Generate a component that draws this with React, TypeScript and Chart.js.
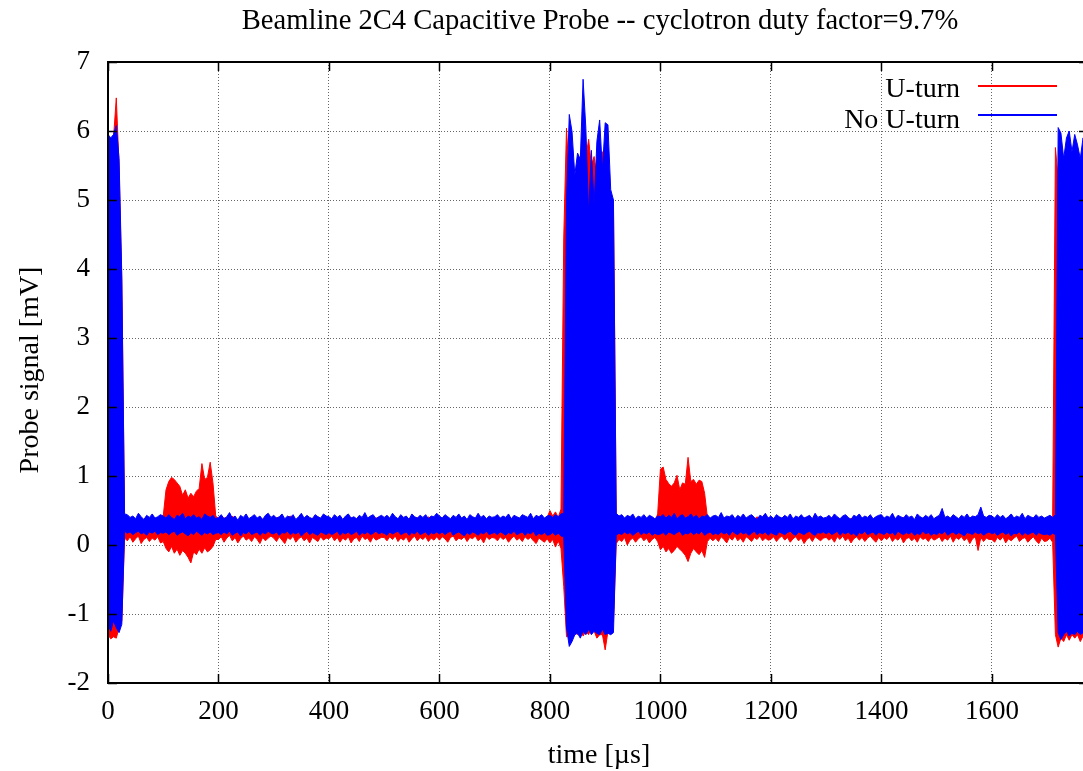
import React, { useEffect, useRef } from "react";
import { Chart, registerables } from "chart.js";

Chart.register(...registerables);

const TITLE = "Beamline 2C4 Capacitive Probe -- cyclotron duty factor=9.7%";
const X_TITLE = "time [µs]";
const Y_TITLE = "Probe signal [mV]";
const SERIES_NAMES = ["U-turn", "No U-turn"];
const X_TICKS = [0, 200, 400, 600, 800, 1000, 1200, 1400, 1600];
const Y_TICKS = [-2, -1, 0, 1, 2, 3, 4, 5, 6, 7];
const X_MIN = 0;
const X_MAX = 1774;
const Y_MIN = -2;
const Y_MAX = 7;
// envelope samples every 5 µs, starting at t = 0 µs
const T_STEP = 5;

// No U-turn (blue): upper envelope of the probe signal, mV
const noUturnHi = [
  5.95, 5.9, 5.95, 6.08, 5.6, 3.9, 0.45, 0.44, 0.40, 0.42, 0.38, 0.46, 0.41, 0.37, 0.43, 0.40, 0.45, 0.39, 0.41, 0.44, // 0-95
  0.42, 0.39, 0.44, 0.40, 0.37, 0.43, 0.41, 0.46, 0.38, 0.42, 0.40, 0.44, 0.39, 0.41, 0.37, 0.45, 0.42, 0.40, 0.43, 0.38, // 100
  0.40, 0.44, 0.38, 0.41, 0.47, 0.39, 0.42, 0.36, 0.43, 0.40, 0.45, 0.38, 0.41, 0.44, 0.39, 0.42, 0.37, 0.43, 0.46, 0.40, // 200
  0.43, 0.39, 0.41, 0.45, 0.38, 0.42, 0.40, 0.44, 0.37, 0.41, 0.46, 0.39, 0.43, 0.40, 0.38, 0.44, 0.41, 0.39, 0.45, 0.42, // 300
  0.41, 0.38, 0.44, 0.40, 0.43, 0.37, 0.42, 0.45, 0.39, 0.41, 0.38, 0.43, 0.40, 0.47, 0.39, 0.42, 0.44, 0.38, 0.41, 0.43, // 400
  0.40, 0.43, 0.39, 0.46, 0.41, 0.38, 0.44, 0.40, 0.42, 0.37, 0.45, 0.41, 0.39, 0.43, 0.40, 0.44, 0.38, 0.42, 0.41, 0.46, // 500
  0.42, 0.39, 0.44, 0.41, 0.38, 0.43, 0.40, 0.45, 0.39, 0.42, 0.37, 0.44, 0.41, 0.39, 0.46, 0.40, 0.43, 0.38, 0.42, 0.40, // 600
  0.41, 0.44, 0.39, 0.42, 0.40, 0.45, 0.38, 0.43, 0.41, 0.39, 0.44, 0.42, 0.40, 0.46, 0.38, 0.43, 0.41, 0.44, 0.39, 0.42, // 700
  0.43, 0.40, 0.44, 0.41, 0.45, 0.46, 4.98, 6.24, 5.99, 5.36, 5.68, 5.59, 6.75, 6.04, 4.8, 5.72, 4.93, 5.85, 6.16, 5.43, // 800
  6.12, 6.09, 5.15, 5.0, 0.46, 0.42, 0.44, 0.39, 0.43, 0.41, 0.45, 0.38, 0.42, 0.40, 0.44, 0.39, 0.43, 0.41, 0.38, 0.42, // 900
  0.41, 0.44, 0.39, 0.43, 0.40, 0.46, 0.38, 0.42, 0.44, 0.39, 0.41, 0.45, 0.40, 0.43, 0.38, 0.42, 0.41, 0.44, 0.39, 0.42, // 1000
  0.43, 0.40, 0.47, 0.39, 0.42, 0.41, 0.44, 0.38, 0.43, 0.40, 0.45, 0.39, 0.42, 0.44, 0.40, 0.37, 0.43, 0.41, 0.46, 0.39, // 1100
  0.42, 0.38, 0.44, 0.41, 0.39, 0.43, 0.40, 0.45, 0.38, 0.42, 0.40, 0.44, 0.39, 0.41, 0.43, 0.38, 0.46, 0.40, 0.42, 0.39, // 1200
  0.40, 0.43, 0.39, 0.45, 0.41, 0.38, 0.42, 0.44, 0.40, 0.37, 0.43, 0.41, 0.45, 0.39, 0.42, 0.40, 0.44, 0.38, 0.41, 0.43, // 1300
  0.44, 0.39, 0.42, 0.40, 0.46, 0.38, 0.43, 0.41, 0.39, 0.44, 0.40, 0.42, 0.37, 0.45, 0.41, 0.39, 0.43, 0.40, 0.44, 0.38, // 1400
  0.41, 0.43, 0.53, 0.40, 0.42, 0.39, 0.44, 0.41, 0.38, 0.43, 0.40, 0.45, 0.39, 0.42, 0.41, 0.44, 0.55, 0.42, 0.40, 0.43, // 1500
  0.42, 0.39, 0.44, 0.40, 0.43, 0.38, 0.41, 0.45, 0.39, 0.42, 0.40, 0.46, 0.38, 0.43, 0.41, 0.39, 0.44, 0.40, 0.42, 0.39, // 1600
  0.41, 0.43, 0.40, 0.44, 6.05, 5.97, 5.6, 5.9, 6.0, 5.7, 5.95, 5.8, 5.6, 5.9, 5.75, // 1700-1770
];

// No U-turn (blue): lower envelope, mV
const noUturnLo = [
  -1.15, -1.25, -1.1, -1.2, -1.27, -1.15, 0.2, 0.17, 0.19, 0.15, 0.18, 0.2, 0.16, 0.18, 0.14, 0.19, 0.17, 0.2, 0.15, 0.18,
  0.17, 0.19, 0.15, 0.18, 0.2, 0.14, 0.17, 0.19, 0.16, 0.13, 0.18, 0.15, 0.2, 0.17, 0.14, 0.18, 0.16, 0.19, 0.15, 0.17,
  0.18, 0.15, 0.19, 0.16, 0.2, 0.14, 0.17, 0.19, 0.13, 0.18, 0.16, 0.2, 0.15, 0.17, 0.19, 0.14, 0.18, 0.16, 0.2, 0.17,
  0.16, 0.19, 0.14, 0.18, 0.17, 0.2, 0.15, 0.18, 0.16, 0.19, 0.13, 0.17, 0.2, 0.15, 0.18, 0.16, 0.14, 0.19, 0.17, 0.15,
  0.18, 0.15, 0.17, 0.2, 0.14, 0.18, 0.16, 0.19, 0.15, 0.17, 0.2, 0.14, 0.18, 0.16, 0.19, 0.15, 0.17, 0.2, 0.16, 0.18,
  0.17, 0.14, 0.19, 0.16, 0.18, 0.2, 0.15, 0.17, 0.19, 0.14, 0.18, 0.16, 0.2, 0.15, 0.17, 0.19, 0.14, 0.18, 0.16, 0.19,
  0.16, 0.19, 0.15, 0.18, 0.2, 0.14, 0.17, 0.19, 0.16, 0.13, 0.18, 0.15, 0.19, 0.17, 0.14, 0.18, 0.16, 0.2, 0.15, 0.17,
  0.18, 0.15, 0.19, 0.17, 0.14, 0.18, 0.16, 0.2, 0.15, 0.17, 0.19, 0.14, 0.18, 0.16, 0.2, 0.13, 0.17, 0.15, 0.18, 0.14,
  0.15, 0.18, 0.14, 0.17, 0.13, 0.12, -1.2, -1.47, -1.4, -1.3, -1.28, -1.35, -1.25, -1.3, -1.22, -1.3, -1.25, -1.28, -1.3, -1.22,
  -1.3, -1.28, -1.3, -1.27, 0.14, 0.17, 0.15, 0.19, 0.16, 0.18, 0.14, 0.17, 0.2, 0.15, 0.18, 0.16, 0.19, 0.14, 0.17, 0.15,
  0.16, 0.18, 0.14, 0.19, 0.17, 0.15, 0.18, 0.2, 0.14, 0.17, 0.16, 0.19, 0.15, 0.18, 0.16, 0.2, 0.14, 0.17, 0.19, 0.15,
  0.17, 0.15, 0.19, 0.16, 0.18, 0.14, 0.2, 0.17, 0.15, 0.19, 0.16, 0.18, 0.14, 0.17, 0.2, 0.15, 0.18, 0.16, 0.19, 0.14,
  0.18, 0.16, 0.14, 0.19, 0.17, 0.15, 0.18, 0.2, 0.16, 0.14, 0.19, 0.17, 0.15, 0.18, 0.2, 0.16, 0.14, 0.18, 0.17, 0.19,
  0.16, 0.19, 0.15, 0.17, 0.2, 0.14, 0.18, 0.16, 0.19, 0.15, 0.17, 0.13, 0.18, 0.16, 0.2, 0.15, 0.17, 0.19, 0.14, 0.18,
  0.17, 0.15, 0.19, 0.16, 0.18, 0.14, 0.2, 0.17, 0.15, 0.18, 0.16, 0.19, 0.14, 0.17, 0.15, 0.2, 0.16, 0.18, 0.14, 0.17,
  0.15, 0.18, 0.16, 0.2, 0.14, 0.17, 0.19, 0.15, 0.18, 0.16, 0.13, 0.18, 0.17, 0.15, 0.19, 0.16, 0.18, 0.14, 0.17, 0.19,
  0.16, 0.18, 0.14, 0.17, 0.19, 0.15, 0.18, 0.13, 0.17, 0.16, 0.19, 0.14, 0.18, 0.15, 0.17, 0.19, 0.14, 0.18, 0.16, 0.15,
  0.16, 0.14, 0.17, 0.15, -1.27, -1.37, -1.3, -1.25, -1.32, -1.28, -1.3, -1.25, -1.3, -1.27, -1.3,
];

// U-turn (red): upper envelope, mV
const uturnHi = [
  5.9, 5.8, 5.9, 6.48, 5.5, 3.8, 0.4, 0.38, 0.35, 0.4, 0.36, 0.39, 0.33, 0.37, 0.41, 0.35, 0.38, 0.34, 0.36, 0.39,
  0.42, 0.8, 0.92, 0.98, 0.95, 0.9, 0.85, 0.72, 0.8, 0.68, 0.75, 0.7, 0.78, 0.82, 1.18, 0.95, 0.98, 1.2, 0.9, 0.42,
  0.38, 0.35, 0.4, 0.33, 0.37, 0.42, 0.36, 0.34, 0.39, 0.37, 0.41, 0.35, 0.38, 0.36, 0.33, 0.4, 0.37, 0.35, 0.39, 0.36,
  0.36, 0.4, 0.34, 0.38, 0.35, 0.39, 0.42, 0.36, 0.33, 0.38, 0.4, 0.35, 0.37, 0.34, 0.39, 0.36, 0.41, 0.35, 0.38, 0.37,
  0.37, 0.34, 0.39, 0.36, 0.41, 0.35, 0.38, 0.33, 0.4, 0.36, 0.38, 0.42, 0.35, 0.37, 0.34, 0.39, 0.36, 0.4, 0.35, 0.38,
  0.35, 0.39, 0.36, 0.4, 0.34, 0.38, 0.41, 0.36, 0.33, 0.39, 0.37, 0.35, 0.4, 0.36, 0.38, 0.34, 0.41, 0.37, 0.35, 0.39,
  0.38, 0.35, 0.4, 0.37, 0.33, 0.39, 0.36, 0.41, 0.34, 0.38, 0.36, 0.4, 0.35, 0.37, 0.42, 0.36, 0.39, 0.34, 0.38, 0.36,
  0.37, 0.4, 0.35, 0.38, 0.36, 0.41, 0.34, 0.39, 0.37, 0.35, 0.4, 0.38, 0.36, 0.42, 0.35, 0.39, 0.37, 0.41, 0.36, 0.4,
  0.5, 0.42, 0.48, 0.4, 0.52, 4.45, 6.04, 5.3, 5.5, 5.2, 5.4, 5.6, 5.9, 5.6, 5.88, 5.5, 5.63, 5.3, 5.4, 5.7,
  5.6, 5.0, 5.0, 4.9, 0.42, 0.38, 0.4, 0.35, 0.39, 0.36, 0.41, 0.34, 0.38, 0.36, 0.4, 0.35, 0.37, 0.39, 0.34, 0.45,
  1.1, 1.13, 0.95, 0.89, 0.85, 0.9, 1.01, 0.8, 0.9, 0.88, 1.27, 0.92, 0.95, 0.88, 0.94, 0.92, 0.75, 0.4, 0.37, 0.39,
  0.38, 0.35, 0.4, 0.36, 0.39, 0.34, 0.41, 0.37, 0.35, 0.4, 0.36, 0.38, 0.33, 0.39, 0.37, 0.41, 0.35, 0.38, 0.36, 0.4,
  0.36, 0.39, 0.35, 0.4, 0.37, 0.34, 0.38, 0.41, 0.36, 0.39, 0.35, 0.37, 0.4, 0.34, 0.38, 0.36, 0.42, 0.35, 0.39, 0.37,
  0.37, 0.34, 0.4, 0.36, 0.38, 0.35, 0.41, 0.37, 0.34, 0.39, 0.36, 0.4, 0.35, 0.38, 0.36, 0.33, 0.39, 0.37, 0.4, 0.35,
  0.39, 0.36, 0.38, 0.35, 0.41, 0.34, 0.38, 0.36, 0.4, 0.37, 0.35, 0.39, 0.34, 0.4, 0.37, 0.35, 0.38, 0.36, 0.41, 0.34,
  0.36, 0.38, 0.35, 0.4, 0.37, 0.34, 0.39, 0.36, 0.33, 0.38, 0.36, 0.4, 0.35, 0.37, 0.39, 0.34, 0.38, 0.36, 0.4, 0.37,
  0.37, 0.35, 0.39, 0.36, 0.38, 0.34, 0.4, 0.37, 0.35, 0.39, 0.36, 0.41, 0.34, 0.38, 0.36, 0.4, 0.35, 0.37, 0.39, 0.36,
  0.36, 0.39, 0.38, 5.76, 5.3, 5.5, 5.2, 5.6, 5.4, 5.5, 5.3, 5.6, 5.4, 5.5, 5.3,
];

// U-turn (red): lower envelope, mV
const uturnLo = [
  -1.3, -1.36, -1.33, -1.35, -1.2, -1.1, 0.1, 0.06, 0.12, 0.04, 0.09, 0.13, 0.02, 0.08, 0.11, 0.05, 0.1, 0.07, 0.12, 0.03,
  0.05, -0.05, -0.1, -0.02, -0.12, -0.06, -0.15, -0.08, -0.12, -0.18, -0.26, -0.1, -0.14, -0.06, -0.12, -0.04, -0.1, -0.07, -0.02, 0.08,
  0.08, 0.12, 0.04, 0.1, 0.14, 0.06, 0.11, 0.03, 0.09, 0.13, 0.07, 0.1, 0.05, 0.12, 0.08, 0.02, 0.11, 0.06, 0.1, 0.13,
  0.1, 0.05, 0.12, 0.07, 0.02, 0.11, 0.08, 0.13, 0.04, 0.09, 0.12, 0.06, 0.1, 0.03, 0.11, 0.08, 0.05, 0.12, 0.07, 0.1,
  0.09, 0.13, 0.06, 0.11, 0.04, 0.1, 0.07, 0.12, 0.03, 0.09, 0.11, 0.05, 0.13, 0.08, 0.1, 0.04, 0.12, 0.07, 0.09, 0.11,
  0.11, 0.06, 0.12, 0.08, 0.13, 0.05, 0.1, 0.07, 0.12, 0.04, 0.09, 0.13, 0.06, 0.11, 0.08, 0.12, 0.05, 0.1, 0.07, 0.12,
  0.07, 0.12, 0.09, 0.04, 0.11, 0.13, 0.06, 0.1, 0.08, 0.12, 0.05, 0.11, 0.09, 0.13, 0.06, 0.1, 0.03, 0.12, 0.08, 0.11,
  0.1, 0.06, 0.12, 0.08, 0.11, 0.04, 0.09, 0.13, 0.07, 0.1, 0.05, 0.12, 0.08, 0.11, 0.06, 0.02, 0.1, 0.07, 0.04, 0.09,
  0.03, 0.08, -0.03, 0.06, -0.05, -0.6, -1.33, -1.3, -1.25, -1.2, -1.3, -1.2, -1.32, -1.25, -1.3, -1.2, -1.25, -1.35, -1.3, -1.3,
  -1.52, -1.25, -1.2, -1.1, 0.02, 0.08, 0.05, 0.11, 0.0, 0.07, 0.1, 0.04, 0.09, 0.12, 0.06, 0.1, 0.03, 0.08, 0.11, 0.05,
  -0.07, -0.02, -0.1, -0.05, -0.12, -0.08, -0.02, -0.06, -0.1, -0.15, -0.24, -0.12, -0.05, -0.1, -0.14, -0.08, -0.18, 0.05, 0.1, 0.06,
  0.1, 0.05, 0.12, 0.08, 0.03, 0.11, 0.07, 0.13, 0.06, 0.1, 0.04, 0.12, 0.09, 0.05, 0.11, 0.08, 0.13, 0.06, 0.1, 0.07,
  0.08, 0.12, 0.05, 0.1, 0.13, 0.07, 0.11, 0.04, 0.09, 0.12, 0.06, 0.1, 0.02, 0.08, 0.11, 0.05, 0.12, 0.09, 0.06, 0.1,
  0.11, 0.07, 0.1, 0.04, 0.12, 0.08, 0.13, 0.06, 0.1, 0.03, 0.09, 0.12, 0.07, 0.11, 0.05, 0.1, 0.13, 0.08, 0.04, 0.11,
  0.06, 0.11, 0.08, 0.13, 0.05, 0.1, 0.07, 0.12, 0.03, 0.09, 0.11, 0.06, 0.1, 0.04, 0.12, 0.08, 0.1, 0.05, 0.11, 0.07,
  0.09, 0.12, 0.05, 0.1, 0.07, 0.13, 0.04, 0.11, 0.08, 0.12, 0.06, 0.1, 0.02, 0.09, 0.12, -0.08, 0.11, 0.05, 0.1, 0.08,
  0.08, 0.04, 0.11, 0.07, 0.12, 0.03, 0.09, 0.06, 0.1, 0.13, 0.05, 0.09, 0.11, 0.04, 0.08, 0.12, 0.06, 0.02, 0.1, 0.05,
  0.06, 0.1, 0.04, -1.3, -1.48, -1.35, -1.4, -1.3, -1.38, -1.3, -1.35, -1.3, -1.4, -1.32, -1.35,
];

const RED = "rgb(255,0,0)";
const BLUE = "rgb(0,0,255)";
const SERIES_COLORS = [RED, BLUE];
const FONT = "'Liberation Serif', 'Times New Roman', serif";

const toPoints = (arr: number[]) => arr.map((y, i) => ({ x: i * T_STEP, y }));

const decorPlugin = {
  id: "gnuplotDecor",
  afterDatasetsDraw(chart: any) {
    const { ctx, chartArea: a, scales } = chart;
    ctx.save();
    ctx.strokeStyle = "#000";
    ctx.lineWidth = 1.5;
    const tl = 9;
    ctx.beginPath();
    for (const v of X_TICKS) {
      const px = Math.round(scales.x.getPixelForValue(v)) + 0.5;
      ctx.moveTo(px, a.bottom);
      ctx.lineTo(px, a.bottom - tl);
      ctx.moveTo(px, a.top);
      ctx.lineTo(px, a.top + tl);
    }
    for (const v of Y_TICKS) {
      const py = Math.round(scales.y.getPixelForValue(v)) + 0.5;
      ctx.moveTo(a.left, py);
      ctx.lineTo(a.left + tl, py);
      ctx.moveTo(a.right, py);
      ctx.lineTo(a.right - tl, py);
    }
    ctx.stroke();
    ctx.lineWidth = 2;
    ctx.strokeRect(a.left, a.top, a.right - a.left, a.bottom - a.top);

    // legend (gnuplot style: right-aligned text, then line sample)
    ctx.font = `28px ${FONT}`;
    ctx.fillStyle = "#000";
    ctx.textAlign = "right";
    ctx.textBaseline = "alphabetic";
    const textRight = 960;
    const lineX0 = 978;
    const lineX1 = 1057;
    const baselines = [97, 128];
    const lineYs = [86, 115];
    SERIES_NAMES.forEach((name, i) => {
      ctx.fillText(name, textRight, baselines[i]);
      ctx.strokeStyle = SERIES_COLORS[i];
      ctx.lineWidth = 2;
      ctx.beginPath();
      ctx.moveTo(lineX0, lineYs[i]);
      ctx.lineTo(lineX1, lineYs[i]);
      ctx.stroke();
    });

    // titles
    ctx.fillStyle = "#000";
    ctx.textAlign = "center";
    ctx.font = `28.6px ${FONT}`;
    ctx.fillText(TITLE, 600, 29);
    ctx.font = `28px ${FONT}`;
    ctx.fillText(X_TITLE, 599, 763);
    ctx.translate(38, 370);
    ctx.rotate(-Math.PI / 2);
    ctx.fillText(Y_TITLE, 0, 0);
    ctx.restore();
  },
};

export default function App() {
  const canvasRef = useRef<HTMLCanvasElement | null>(null);

  useEffect(() => {
    const canvas = canvasRef.current;
    if (!canvas) return;
    const common = {
      pointRadius: 0,
      pointHoverRadius: 0,
      borderWidth: 1,
      tension: 0,
    };
    const chart = new Chart(canvas, {
      type: "line",
      data: {
        datasets: [
          {
            ...common,
            label: SERIES_NAMES[1] + " max",
            data: toPoints(noUturnHi),
            borderColor: BLUE,
            backgroundColor: BLUE,
            fill: "+1",
          },
          {
            ...common,
            label: SERIES_NAMES[1] + " min",
            data: toPoints(noUturnLo),
            borderColor: BLUE,
            backgroundColor: BLUE,
            fill: false,
          },
          {
            ...common,
            label: SERIES_NAMES[0] + " max",
            data: toPoints(uturnHi),
            borderColor: RED,
            backgroundColor: RED,
            fill: "+1",
          },
          {
            ...common,
            label: SERIES_NAMES[0] + " min",
            data: toPoints(uturnLo),
            borderColor: RED,
            backgroundColor: RED,
            fill: false,
          },
        ],
      },
      options: {
        animation: false,
        responsive: false,
        maintainAspectRatio: false,
        devicePixelRatio: 1,
        events: [],
        layout: { padding: { top: 62, right: 12, left: 0, bottom: 0 } },
        plugins: {
          legend: { display: false },
          title: { display: false },
          tooltip: { enabled: false },
        },
        scales: {
          x: {
            type: "linear",
            min: X_MIN,
            max: X_MAX,
            afterBuildTicks: (s: any) => {
              s.ticks = X_TICKS.map((v) => ({ value: v }));
            },
            afterFit: (s: any) => {
              s.height = 88;
            },
            ticks: {
              color: "#000",
              font: { family: FONT, size: 27 },
              padding: 13,
              maxRotation: 0,
              autoSkip: false,
              callback: (v: any) => String(v),
            },
            grid: { color: "#666", lineWidth: 1, drawTicks: false },
            border: { display: false, dash: [1, 2] },
          },
          y: {
            type: "linear",
            min: Y_MIN,
            max: Y_MAX,
            afterBuildTicks: (s: any) => {
              s.ticks = Y_TICKS.map((v) => ({ value: v }));
            },
            afterFit: (s: any) => {
              s.width = 108;
            },
            ticks: {
              color: "#000",
              font: { family: FONT, size: 27 },
              padding: 18,
              autoSkip: false,
              callback: (v: any) => String(v),
            },
            grid: { color: "#666", lineWidth: 1, drawTicks: false },
            border: { display: false, dash: [1, 2] },
          },
        },
      },
      plugins: [decorPlugin],
    });
    return () => chart.destroy();
  }, []);

  return (
    <div
      style={{
        position: "fixed",
        left: 0,
        top: 0,
        width: 1083,
        height: 771,
        overflow: "hidden",
        background: "#fff",
      }}
    >
      <canvas
        ref={canvasRef}
        width={1100}
        height={771}
        style={{ display: "block", width: 1100, height: 771 }}
      />
    </div>
  );
}
